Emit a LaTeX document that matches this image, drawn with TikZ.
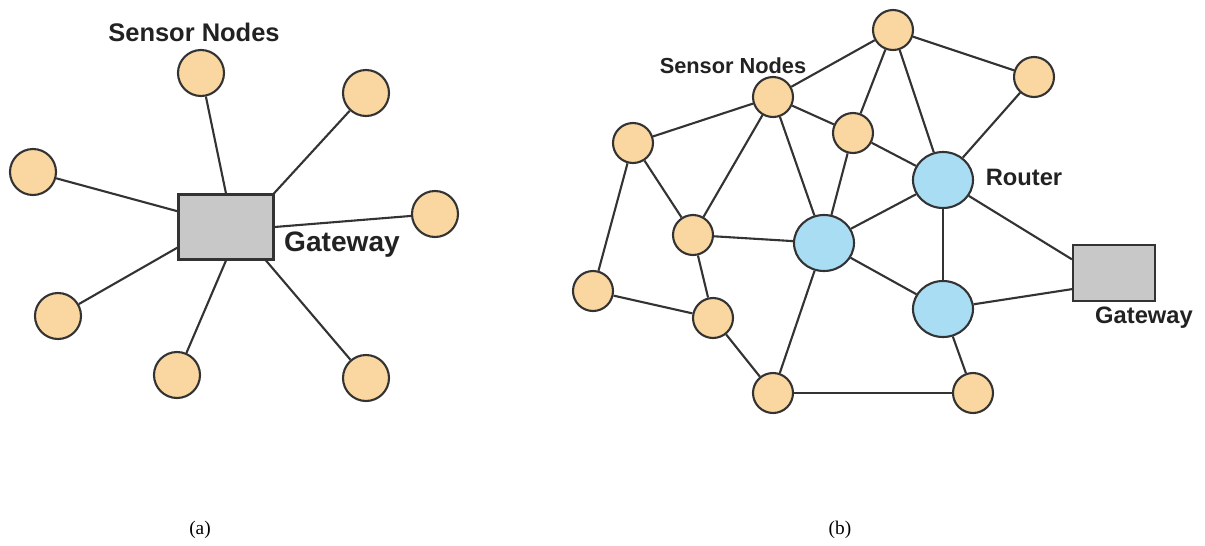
\documentclass[tikz,border=0pt]{standalone}
\usepackage{fontspec}
\setmainfont{Liberation Serif}
\newfontfamily\labelfont{Liberation Sans}
\usepackage{tikz}
\usetikzlibrary{shapes.geometric}
\definecolor{node_orange}{HTML}{FAD7A0}
\definecolor{router_blue}{HTML}{A9DDF3}
\definecolor{gate_grey}{HTML}{C8C8C8}
\definecolor{edge_dark}{HTML}{333333}
\definecolor{text_dark}{HTML}{222222}

\begin{document}
\begin{tikzpicture}[x=0.02cm, y=-0.02cm,
	sensor/.style={circle, draw=edge_dark, line width=1.2pt, fill=node_orange, inner sep=0pt, minimum size=0.8cm},
	bigsensor/.style={sensor, minimum size=0.92cm},
	router/.style={ellipse, draw=edge_dark, line width=1.2pt, fill=router_blue, inner sep=0pt, minimum width=1.2cm, minimum height=1.12cm},
	gateway/.style={rectangle, draw=edge_dark, line width=1.2pt, fill=gate_grey, inner sep=0pt},
	link/.style={draw=edge_dark, line width=1.2pt},
	tag/.style={text=text_dark, inner sep=0pt, font=\labelfont\bfseries},
	caption/.style={inner sep=0pt, font=\fontsize{11}{13}\selectfont}]
	\useasboundingbox (0, 0) rectangle (1205, 545);
	\node[gateway, minimum width=1.9cm, minimum height=1.3cm] (gwA) at (226, 227) {};
	\node[bigsensor] (a1) at (201, 73) {};
	\node[bigsensor] (a2) at (366, 93) {};
	\node[bigsensor] (a3) at (33, 172) {};
	\node[bigsensor] (a4) at (435, 214) {};
	\node[bigsensor] (a5) at (58, 316) {};
	\node[bigsensor] (a6) at (177, 375) {};
	\node[bigsensor] (a7) at (366, 378) {};
	\draw[link] (a1) -- (gwA.north);
	\draw[link] (a2) -- (gwA.35);
	\draw[link] (a3) -- (gwA.162);
	\draw[link] (a4) -- (gwA.east);
	\draw[link] (a5) -- (gwA.203);
	\draw[link] (a6) -- (gwA.south);
	\draw[link] (a7) -- (gwA.-40);
	\node[tag, font=\labelfont\bfseries\fontsize{14.5}{17}\selectfont] (snA) at (194, 32) {Sensor Nodes};
	\node[tag, font=\labelfont\bfseries\fontsize{16}{19}\selectfont] (gtA) at (342, 245) {Gateway};
	\node[caption] (capA) at (200, 530) {(a)};
	\node[sensor] (t) at (893, 30) {};
	\node[sensor] (tr) at (1034, 77) {};
	\node[sensor] (sn) at (773, 97) {};
	\node[sensor] (m) at (853, 133) {};
	\node[sensor] (l1) at (633, 143) {};
	\node[sensor] (l2) at (693, 235) {};
	\node[sensor] (l3) at (593, 291) {};
	\node[sensor] (l4) at (713, 318) {};
	\node[sensor] (b1) at (773, 393) {};
	\node[sensor] (b2) at (973, 393) {};
	\node[router] (r1) at (943, 180) {};
	\node[router] (r2) at (824, 243) {};
	\node[router] (r3) at (943, 309) {};
	\node[gateway, minimum width=1.64cm, minimum height=1.12cm] (gwB) at (1114, 273) {};
	\draw[link] (sn) -- (t);
	\draw[link] (t) -- (tr);
	\draw[link] (t) -- (m);
	\draw[link] (t) -- (r1);
	\draw[link] (sn) -- (l1);
	\draw[link] (sn) -- (m);
	\draw[link] (sn) -- (l2);
	\draw[link] (sn) -- (r2);
	\draw[link] (m) -- (r1);
	\draw[link] (m) -- (r2);
	\draw[link] (tr) -- (r1);
	\draw[link] (l1) -- (l2);
	\draw[link] (l1) -- (l3);
	\draw[link] (l2) -- (r2);
	\draw[link] (l2) -- (l4);
	\draw[link] (l3) -- (l4);
	\draw[link] (l4) -- (b1);
	\draw[link] (b1) -- (r2);
	\draw[link] (b1) -- (b2);
	\draw[link] (r2) -- (r1);
	\draw[link] (r2) -- (r3);
	\draw[link] (r1) -- (r3);
	\draw[link] (r1) -- (gwB.162);
	\draw[link] (r3) -- (gwB.201);
	\draw[link] (r3) -- (b2);
	\node[tag, font=\labelfont\bfseries\fontsize{12.4}{15}\selectfont] (snB) at (733, 66) {Sensor Nodes};
	\node[tag, font=\labelfont\bfseries\fontsize{13.5}{16}\selectfont] (rtB) at (1024, 177) {Router};
	\node[tag, font=\labelfont\bfseries\fontsize{13.5}{16}\selectfont] (gtB) at (1144, 318) {Gateway};
	\node[caption] (capB) at (840, 530) {(b)};
\end{tikzpicture}
\end{document}
